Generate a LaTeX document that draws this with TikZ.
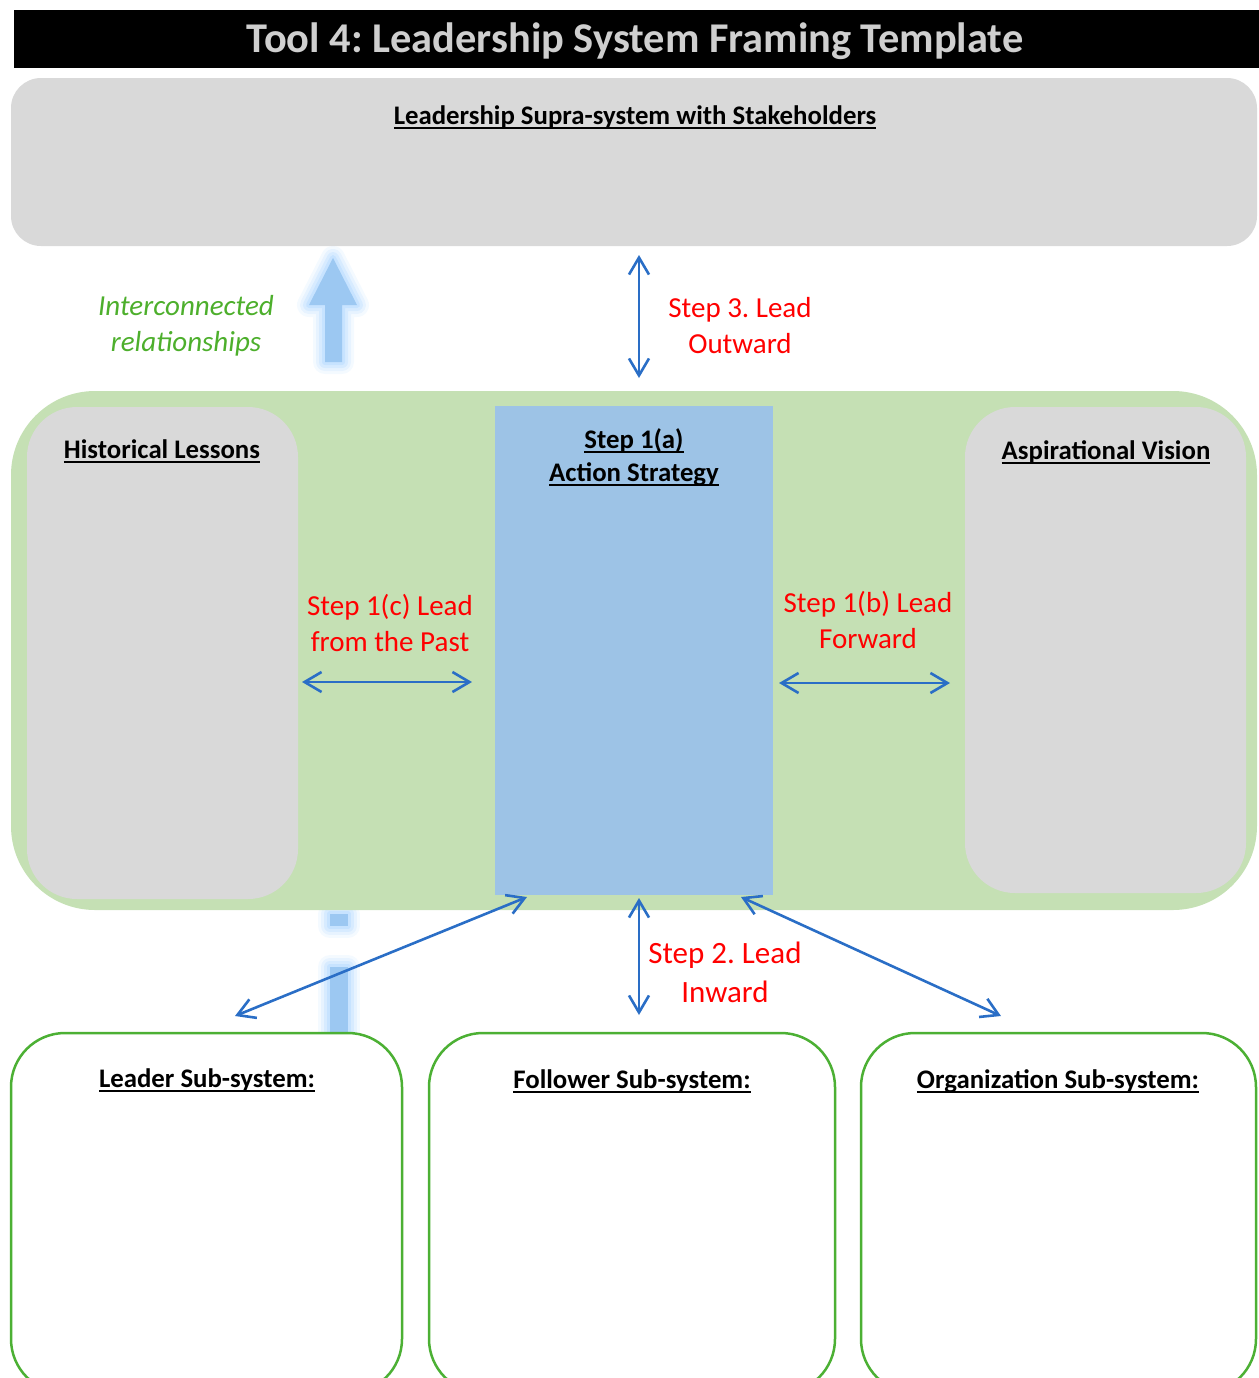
\documentclass[tikz,border=0pt]{standalone}
\usepackage{fontspec}
\setmainfont{Carlito}
\usetikzlibrary{arrows.meta}
\frenchspacing

\definecolor{boxgray}{HTML}{D9D9D9}
\definecolor{titlegray}{HTML}{CFCFCF}
\definecolor{panelgreen}{HTML}{C5E0B4}
\definecolor{actionblue}{HTML}{9DC3E6}
\definecolor{linkblue}{HTML}{2A6EC6}
\definecolor{steptext}{HTML}{FF0000}
\definecolor{notegreen}{HTML}{4DAF2C}
\definecolor{edgegreen}{HTML}{4CB034}
\definecolor{glowcore}{HTML}{9CC8F2}
\definecolor{glowhalo}{HTML}{A8D3FF}

% underline at a fixed depth below the baseline
\newcommand{\undl}[1]{\setbox0\hbox{#1}\rlap{\rule[-2.2pt]{\wd0}{1pt}}\box0}
\newcommand{\hdfont}{\bfseries\fontsize{13.4pt}{16pt}\selectfont}

\tikzset{
  plate/.style={inner sep=0pt, outer sep=0pt, anchor=north west},
  graybox/.style={plate, fill=boxgray, rounded corners=#1},
  subbox/.style={plate, draw=edgegreen, line width=1.25pt, fill=white, rounded corners=27pt},
  header/.style={inner sep=0pt, align=center, font=\hdfont},
  steplabel/.style={inner sep=0pt, align=center, text=steptext},
  link/.style={draw=linkblue, line width=1.3pt,
    {Straight Barb[length=8.5pt,width=10pt]}-{Straight Barb[length=8.5pt,width=10pt]}},
}

\begin{document}
\begin{tikzpicture}[x=0.5pt,y=-0.5pt]
\useasboundingbox (0,0) rectangle (1259,1378);
\clip (0,0) rectangle (1259,1378);

% title bar
\node (titlebar) [plate, fill=black, minimum width=622.5pt, minimum height=29pt] at (14,10) {};
\node (title) [inner sep=0pt, text=titlegray, font=\bfseries\fontsize{21.2pt}{24pt}\selectfont] at (635,41)
  {Tool 4: Leadership System Framing Template};

% supra-system
\node (supra) [graybox=15pt, minimum width=623pt, minimum height=84pt] at (11,78) {};
\node (supralabel) [header] at (635,117) {\undl{Leadership Supra-system with Stakeholders}};

% soft upward arrow, drawn behind the panels
\def\glowup{(325,362) -- (325,305) -- (309,305) -- (333,258) -- (357,305) -- (342,305) -- (342,362) -- cycle}
\foreach \w/\o in {12/0.12, 9/0.18, 6/0.25, 3/0.35}
  \draw[glowhalo, line width=\w pt, line join=round, opacity=\o] \glowup;
\fill[glowcore] \glowup;
\foreach \seg in {{(330,914) rectangle (348,926)}, {(330,967) rectangle (348,1040)}}{
  \foreach \w/\o in {12/0.12, 9/0.18, 6/0.25, 3/0.35}
    \draw[glowhalo, line width=\w pt, line join=round, opacity=\o] \seg;
  \fill[glowcore] \seg;
}

% central panel
\node (panel) [graybox=42pt, fill=panelgreen, minimum width=623pt, minimum height=259.5pt] at (11,391) {};
\node (history) [graybox=25pt, minimum width=135.5pt, minimum height=246pt] at (27,407) {};
\node (vision) [graybox=25pt, minimum width=140.5pt, minimum height=243pt] at (965,407) {};
\node (action) [plate, fill=actionblue, minimum width=139pt, minimum height=244.5pt] at (495,406) {};

\node (historylabel) [header] at (162,451) {\undl{Historical Lessons}};
\node (visionlabel) [header] at (1106,452) {\undl{Aspirational Vision}};
\node (actionlabel) [header, font=\bfseries\fontsize{13.4pt}{16.5pt}\selectfont] at (634,457)
  {\undl{Step 1(a)}\\\undl{Action Strategy}};

% sub-systems
\node (leader) [subbox, minimum width=195.5pt, minimum height=180pt] at (11,1033) {};
\node (follower) [subbox, minimum width=203pt, minimum height=180pt] at (429,1033) {};
\node (organization) [subbox, minimum width=197.5pt, minimum height=180pt] at (861,1033) {};
\node (leaderlabel) [header] at (207,1080) {\undl{Leader Sub-system:}};
\node (followerlabel) [header] at (632,1081) {\undl{Follower Sub-system:}};
\node (orglabel) [header] at (1058,1081) {\undl{Organization Sub-system:}};

% side notes
\node (note) [inner sep=0pt, align=center, text=notegreen, font=\itshape\fontsize{14.5pt}{18pt}\selectfont] at (186,326)
  {Interconnected\\relationships};
\node (step3) [steplabel, font=\fontsize{14.5pt}{18pt}\selectfont] at (740,326) {Step 3. Lead\\Outward};
\node (step1c) [steplabel, font=\fontsize{14.5pt}{18pt}\selectfont] at (390,623) {Step 1(c) Lead\\from the Past};
\node (step1b) [steplabel, font=\fontsize{14.5pt}{18pt}\selectfont] at (868,620) {Step 1(b) Lead\\Forward};
\node (step2) [steplabel, font=\fontsize{15.5pt}{19.5pt}\selectfont] at (725,972) {Step 2. Lead\\Inward};

% connector end points
\coordinate (outA) at (639,255);
\coordinate (outB) at (639,378);
\coordinate (pastA) at (302,682);
\coordinate (pastB) at (472,682);
\coordinate (fwdA) at (779,683);
\coordinate (fwdB) at (950,683);
\coordinate (inA) at (639,898);
\coordinate (inB) at (639,1015);
\coordinate (ldA) at (527,897);
\coordinate (ldB) at (235,1016);
\coordinate (orA) at (741,897);
\coordinate (orB) at (1001,1016);

\draw[link] (outA) -- (outB);
\draw[link] (pastA) -- (pastB);
\draw[link] (fwdA) -- (fwdB);
\draw[link] (inA) -- (inB);
\draw[link] (ldA) -- (ldB);
\draw[link] (orA) -- (orB);
\end{tikzpicture}
\end{document}
